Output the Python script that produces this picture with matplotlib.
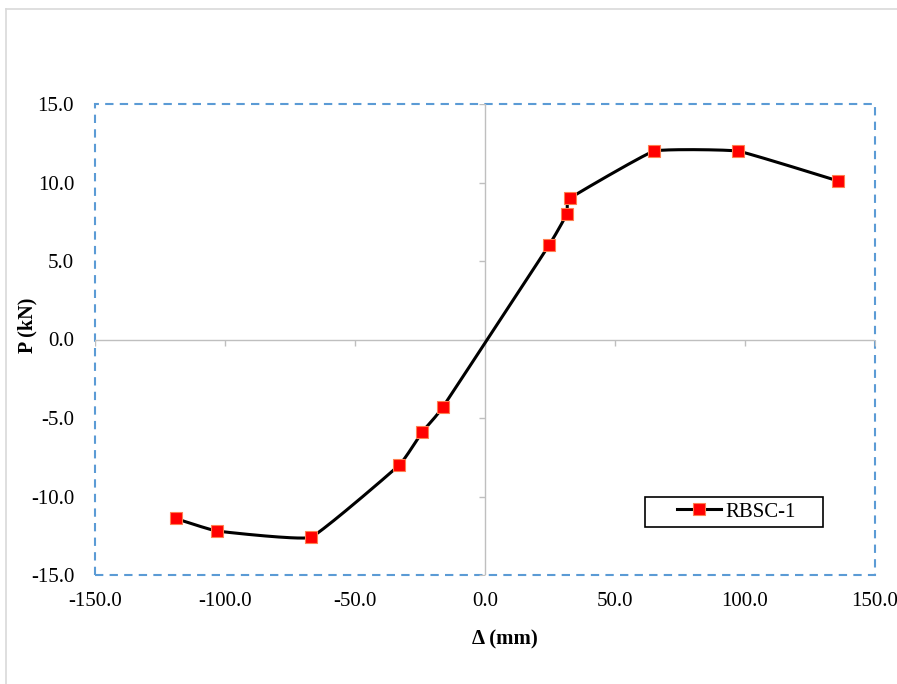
import numpy as np
import matplotlib.pyplot as plt
from matplotlib.patches import Rectangle
from matplotlib.lines import Line2D

# Load-displacement data
disp = [-119.0, -103.0, -67.0, -33.0, -24.2, -16.2, 24.6, 31.5, 32.7, 65.0, 97.3, 135.8]
load = [-11.4, -12.2, -12.6, -8.0, -5.9, -4.3, 6.0, 8.0, 9.0, 12.0, 12.0, 10.1]
series_name = 'RBSC-1'

x_ticks = [-150, -100, -50, 0, 50, 100, 150]
y_ticks = [-15, -10, -5, 0, 5, 10, 15]


def smooth(xs, ys, sx=1.0, sy=1.0, k=0.5, n=30):
    # bezier through points with reduced tension (Excel-like smoothed line)
    p = np.column_stack([np.array(xs) * sx, np.array(ys) * sy])
    p = np.vstack([p[0], p, p[-1]])
    t = np.linspace(0, 1, n)[:, None]
    out = []
    for i in range(1, len(p) - 2):
        p0, p1, p2, p3 = p[i - 1], p[i], p[i + 1], p[i + 2]
        c1 = p1 + k * (p2 - p0) / 6
        c2 = p2 - k * (p3 - p1) / 6
        seg = ((1 - t) ** 3) * p1 + 3 * ((1 - t) ** 2) * t * c1 + 3 * (1 - t) * t ** 2 * c2 + t ** 3 * p2
        out.append(seg)
    out = np.vstack(out)
    return out[:, 0] / sx, out[:, 1] / sy


plt.rcParams['font.family'] = ['Liberation Serif', 'DejaVu Serif']

fig = plt.figure(figsize=(8.97, 6.84), dpi=100)
ax = fig.add_axes([95 / 897, 1 - 575 / 684, 780 / 897, 471 / 684])

# chart area border
fig.add_artist(Line2D([6 / 897, 6 / 897], [0, 1 - 9 / 684], color='#d9d9d9', lw=1.2))
fig.add_artist(Line2D([6 / 897, 1], [1 - 9 / 684, 1 - 9 / 684], color='#d9d9d9', lw=1.2))

ax.set_xlim(-150, 150)
ax.set_ylim(-15, 15)
for s in ax.spines.values():
    s.set_visible(False)
ax.add_patch(Rectangle((0, 0), 1, 1, transform=ax.transAxes, fill=False,
                       edgecolor='#5b9bd5', lw=1.5, ls=(0, (4, 3)), clip_on=False, zorder=1))

# axis lines through origin with small ticks
ax.axhline(0, color='#bfbfbf', lw=1, zorder=1)
ax.axvline(0, color='#bfbfbf', lw=1, zorder=1)
ax.plot([0] * len(y_ticks), y_ticks, ls='none', marker=0, ms=4, mew=1, color='#bfbfbf', zorder=1)
ax.plot(x_ticks, [0] * len(x_ticks), ls='none', marker=3, ms=4, mew=1, color='#bfbfbf', zorder=1)

ax.set_xticks(x_ticks)
ax.set_yticks(y_ticks)
ax.set_xticklabels([f'{v:.1f}' for v in x_ticks])
ax.set_yticklabels([f'{v:.1f}' for v in y_ticks])
ax.tick_params(length=0, labelsize=15)
ax.tick_params(axis='y', pad=15)
ax.tick_params(axis='x', pad=12)

# smooth in pixel space (2.6 px/mm, 15.7 px/kN)
cx, cy = smooth(disp, load, sx=2.6, sy=15.7, k=0.3)
ax.plot(cx, cy, color='black', lw=2.2, zorder=3)
ax.plot(disp, load, ls='none', marker='s', ms=8.5, mfc='#ff0000', mec='#ff7f50', mew=0.8, zorder=4)

# legend with fixed box
ax.add_patch(Rectangle(((645 - 95) / 780, (575 - 527) / 471), 178 / 780, 30 / 471,
                       transform=ax.transAxes, fill=True, facecolor='white',
                       edgecolor='black', lw=1.2, zorder=5))
handle = Line2D([], [], color='black', lw=2.2, marker='s', ms=8.5, mfc='#ff0000', mec='#ff7f50', mew=0.8)
leg = ax.legend([handle], [series_name], loc='center left', bbox_to_anchor=((677 - 95) / 780, (575 - 512) / 471),
                fontsize=15, frameon=False, borderpad=0, borderaxespad=0,
                handlelength=2.1, handletextpad=0.2)
leg.set_zorder(6)

ax.set_xlabel('Δ (mm)', fontsize=15, fontweight='bold')
ax.xaxis.set_label_coords((505 - 95) / 780, -(629 - 575) / 471)
ax.set_ylabel('P (kN)', fontsize=14.5, fontweight='bold')
ax.yaxis.set_label_coords(-(95 - 37) / 780, (575 - 325) / 471)

fig.savefig('out.png', dpi=100)
